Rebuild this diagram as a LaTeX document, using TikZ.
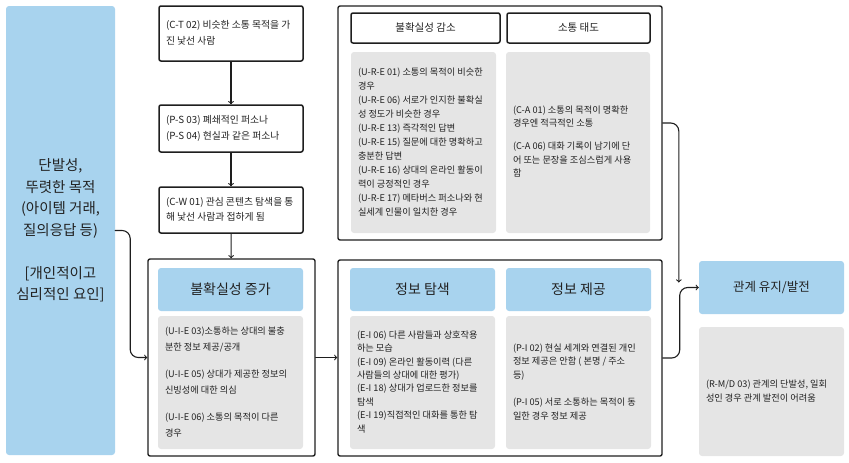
\documentclass[tikz,border=0pt]{standalone}
\usepackage{fontspec}
\setmainfont{Noto Sans CJK KR}
\definecolor{skyfill}{HTML}{A8D3EE}
\definecolor{greyfill}{HTML}{E5E5E5}
\definecolor{inkline}{HTML}{1E1E1E}
\definecolor{inktext}{HTML}{222222}
\newcommand{\txtblock}[2]{\makebox[#1][l]{\begin{tabular}{@{}l@{}}#2\end{tabular}}}
\begin{document}
\begin{tikzpicture}[x=1pt, y=-1pt, >=to, line join=round, line cap=round, text=inktext,
	framebox/.style={draw=inkline, line width=1.5pt, rounded corners=2pt, inner sep=0pt},
	chainbox/.style={framebox, fill=white, minimum width=144pt, font=\fontsize{9.8}{15.5}\selectfont},
	outerbox/.style={framebox, line width=1.4pt},
	tophead/.style={framebox, fill=white, minimum height=30pt, font=\fontsize{10.5}{12}\selectfont},
	headbox/.style={fill=skyfill, rounded corners=3pt, inner sep=0pt, minimum width=145pt, font=\fontsize{14}{16}\selectfont},
	greybox/.style={fill=greyfill, rounded corners=3pt, inner sep=0pt, minimum width=145pt},
	conn/.style={->, draw=inkline, line width=1.1pt, rounded corners=8pt}]
	\useasboundingbox (0,0) rectangle (849,463);
	% left column
	\node[headbox, minimum width=109pt, minimum height=449pt, align=center, font=\fontsize{14.5}{21.5}\selectfont] (lft) at (60.5,230.5) {단발성,\\뚜렷한 목적\\(아이템 거래,\\질의응답 등)\\[21.5pt][개인적이고\\심리적인 요인]};
	% chain
	\node[chainbox, minimum height=55pt] (ct) at (231,33.5) {\txtblock{130pt}{(C-T 02) 비슷한 소통 목적을 가\\진 낯선 사람}};
	\node[chainbox, minimum height=47pt] (ps) at (231,128.5) {\txtblock{130pt}{(P-S 03) 폐쇄적인 퍼소나\\(P-S 04) 현실과 같은 퍼소나}};
	\node[chainbox, minimum height=46pt] (cw) at (231,210) {\txtblock{130pt}{(C-W 01) 관심 콘텐츠 탐색을 통\\해 낯선 사람과 접하게 됨}};
	% uncertainty increase
	\node[outerbox, minimum width=167pt, minimum height=197pt] (incbox) at (231.5,357.5) {};
	\node[headbox, minimum height=43pt] (inchd) at (230.5,289.5) {불확실성 증가};
	\node[greybox, minimum height=133pt, font=\fontsize{9.2}{16}\selectfont] (incgr) at (230.5,382.5) {\txtblock{131pt}{(U-I-E 03)소통하는 상대의 불충\\분한 정보 제공/공개\\[11pt](U-I-E 05) 상대가 제공한 정보의\\신빙성에 대한 의심\\[11pt](U-I-E 06) 소통의 목적이 다른\\경우}};
	% uncertainty reduction / attitude
	\node[outerbox, minimum width=324pt, minimum height=234pt] (redbox) at (500,123) {};
	\node[tophead, minimum width=149pt] (redhd) at (425.5,28) {불확실성 감소};
	\node[tophead, minimum width=143pt] (atthd) at (578.5,28) {소통 태도};
	\node[greybox, minimum height=181pt, font=\fontsize{9.2}{14}\selectfont] (redgr) at (423.5,142.5) {\txtblock{131pt}{(U-R-E 01) 소통의 목적이 비슷한\\경우\\(U-R-E 06) 서로가 인지한 불확실\\성 정도가 비슷한 경우\\(U-R-E 13) 즉각적인 답변\\(U-R-E 15) 질문에 대한 명확하고\\충분한 답변\\(U-R-E 16) 상대의 온라인 활동이\\력이 긍정적인 경우\\(U-R-E 17) 메타버스 퍼소나와 현\\실세계 인물이 일치한 경우}};
	\node[greybox, minimum width=144pt, minimum height=181pt, font=\fontsize{9.2}{13.5}\selectfont] (attgr) at (578,142.5) {\txtblock{130pt}{(C-A 01) 소통의 목적이 명확한\\경우엔 적극적인 소통\\[9.5pt](C-A 06) 대화 기록이 남기에 단\\어 또는 문장을 조심스럽게 사용\\함}};
	% information seeking / providing
	\node[outerbox, minimum width=324pt, minimum height=196pt] (seekbox) at (500,358) {};
	\node[headbox, minimum height=43pt] (seekhd) at (422.5,289.5) {정보 탐색};
	\node[headbox, minimum height=43pt] (provhd) at (578.5,289.5) {정보 제공};
	\node[greybox, minimum height=133pt, font=\fontsize{9.2}{13.4}\selectfont] (seekgr) at (422.5,382.5) {\txtblock{131pt}{(E-I 06) 다른 사람들과 상호작용\\하는 모습\\(E-I 09) 온라인 활동이력 (다른\\사람들의 상대에 대한 평가)\\(E-I 18) 상대가 업로드한 정보를\\탐색\\(E-I 19)직접적인 대화를 통한 탐\\색}};
	\node[greybox, minimum height=133pt, font=\fontsize{9.2}{13.5}\selectfont] (provgr) at (578.5,382.5) {\txtblock{131pt}{(P-I 02) 현실 세계와 연결된 개인\\정보 제공은 안함 ( 본명 / 주소\\등)\\[14pt](P-I 05) 서로 소통하는 목적이 동\\일한 경우 정보 제공}};
	% relationship
	\node[headbox, minimum height=53pt, font=\fontsize{12.5}{14}\selectfont] (rel) at (771.5,287.5) {관계 유지/발전};
	\node[greybox, minimum height=129pt, font=\fontsize{9.2}{14}\selectfont] (relgr) at (771.5,391.5) {\txtblock{131pt}{(R-M/D 03) 관계의 단발성, 일회\\성인 경우 관계 발전이 어려움}};
	% connectors
	\draw[conn] (ct) -- (ps);
	\draw[conn] (ps) -- (cw);
	\draw[conn] (cw) -- (incbox);
	\draw[conn] (lft.east) -- ++(15,0) |- (incbox.west);
	\draw[conn] (incbox.east) -- (incbox.east -| seekbox.west);
	\draw[conn] (redbox.east) -| ([xshift=-20pt,yshift=5pt]rel.west);
	\draw[conn] (seekbox.east) -- ++(17,0) |- (rel.west);
\end{tikzpicture}
\end{document}
